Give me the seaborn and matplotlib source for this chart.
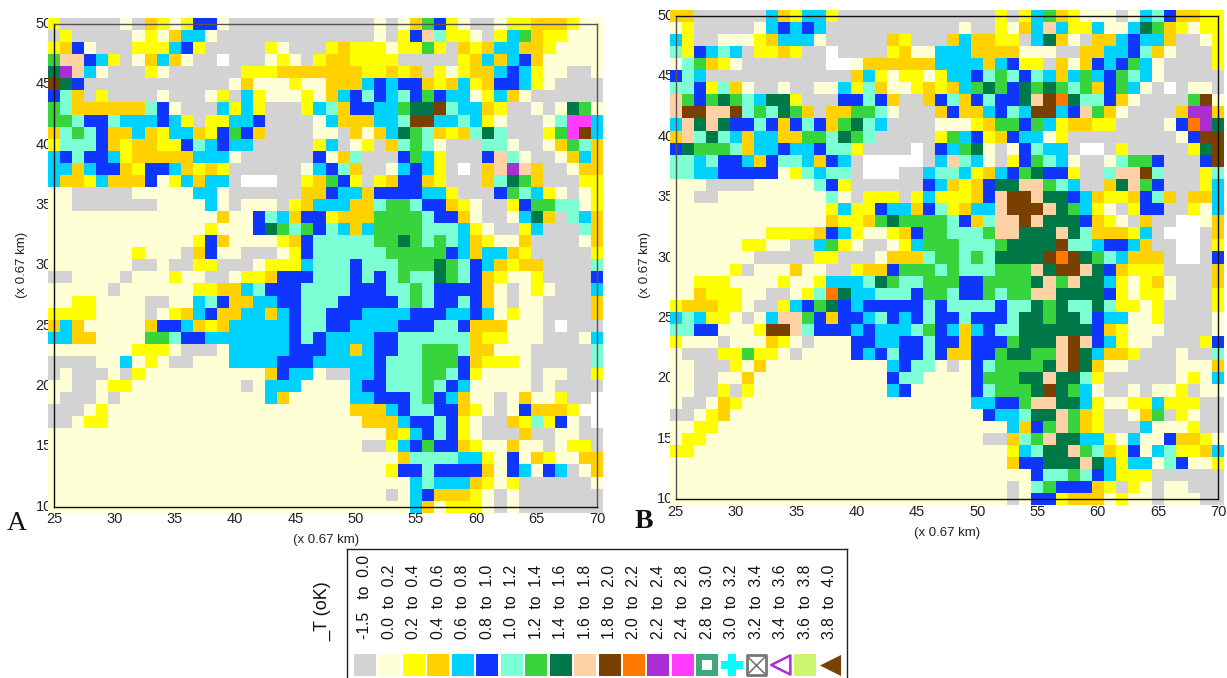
#!/usr/bin/env python3
"""Two categorical temperature-excess maps with a shared hand-built key."""

import re

import matplotlib
matplotlib.use("Agg")
import matplotlib.pyplot as plt
import numpy as np
import pandas as pd
import seaborn as sns
from matplotlib.colors import ListedColormap

X_VALUES = list(range(25, 71))
Y_VALUES = list(range(50, 9, -1))
TICKS_X = [25, 30, 35, 40, 45, 50, 55, 60, 65, 70]
TICKS_Y = [50, 45, 40, 35, 30, 25, 20, 15, 10]

# cell classes, one letter each; "." means no data (white)
CODES = ".gcyosbaldpnrum"
COLORS = ["#FFFFFF", "#D3D3D3", "#FFFFD5", "#FFFF00", "#FFD200", "#00D2FF", "#0F36FF",
          "#7CFFD4", "#38D43E", "#007848", "#FFD2A6", "#7A4000", "#FF7800", "#AA2ED2", "#FF3CFF"]

# rows from y=50 down to y=10, run-length coded: letter + optional repeat
PANEL_A = [
    "y g5 c g o y c y b2 c g7  g5 c g c o l b y c g2 c y2 o3 y c2",
    "g y g5 c y c o s2 c g8  g5 c g y b p a y2 c g y s l o y2 c3",
    "y o b c g3 y3 s b y g5 y c g2  g y o y3 c y2 l y g o y o s2 o2 y c4",
    "l p2 b s y g c o s o c g2 . g3 c y c g  y o2 y4 g5 y o s o s b o c5",
    "d u p s c g3 y c g6 y3 o3  o4 y2 o y o g y c y o2 s b s y c2 g2 c",
    "n d b g12 c o c3 y c  c o3 s b s b2 o y o s y o b2 s y c g4",
    "b a o g y g4 c g3 c y g s y c3 y  c o s b a b s a b l b s2 c y s o c g6",
    "l a o6 a b c g3 s y s y g3 y  s a o b2 s2 l d2 n a s2 o y g2 c g c d l c",
    "l2 a b2 a s3 b s y g y2 s2 b g4  c s o3 s2 a n2 s2 a s y c g3 c a m2 s",
    "o a l a b o2 s o y s2 o y b l b o g4  c2 g o c o s d l a o y o a d a g3 y l m n s",
    "y a3 b o y o2 y2 b a s b s2 g5  y s g c y g o a l a c g3 a2 c g2 c o l a o",
    "s b a b2 s y o5 s3 c g6  b c o a g3 b l s y g3 b p a c g2 c o s o",
    "s2 o s b2 o y b2 s o y o y g6 c  s b a o g2 c s b s y g . g o p u p o g2 c o2",
    "s o2 y s o3 b c y s o s2 g .3 g2 y  o l b y g y o b2 o y g3 o a d l o g3 y y",
    "c2 g5 c5 s2 c g6 o  o b s2 o b4 s2 y g3 b l a s y c g c y",
    "c2 g7 c4 s c g c3 g y o  s3 o2 a l2 a b2 o y c g2 y b l2 a2 c y",
    "c14 o c2 b a s o b  b y o3 l4 a b2 o c g2 c s d o g a s o",
    "c13 y c3 b d l a l  b a s o s l4 a3 s y c g2 y s g3 a o",
    "c12 y b o c4 y o b  a5 l2 d l a l a s o y c2 o g4 c o",
    "c7 y c3 g o b c2 g3 c y b  a6 l5 b s o s2 o y g5 y",
    "c7 g2 c g2 y2 g3 c y3 s  a3 b a3 l3 d l a b s o y o2 g4 a",
    "g2 c4 g c3 y c2 g2 c y2 o b3  a3 b a b a l a2 d l a b o y c2 y g4 b",
    "c5 g c6 y2 o2 s a b3 a  a3 b3 a2 l a b4 o c g c y c g3 s",
    "c2 y2 c4 g2 c2 s a b o2 s2 b2 a  a2 b5 a l a b2 a b o c g c2 g4 o",
    "y4 c4 g c y o s b o2 s2 o s b a  a b3 s4 b3 s2 b s c y c2 g4 o",
    "o s o c5 o b2 s o y o s5 b a  a b2 s4 b3 a2 b o3 c3 g . g3",
    "s2 o2 c4 l2 a b2 s7 b a  b s4 b2 a6 o y2 c3 g3 c s",
    "c7 y3 c g3 c s5 b2  b s2 o s b2 a2 l3 a o2 c3 g5 a",
    "g4 c2 s c y c g2 c3 s4 b3  s5 b a3 l3 b o y3 c g5 a",
    "g c g3 c g y c10 o b s2  c g2 s2 b a3 l2 a b y c4 g c2 g2 y",
    "c2 g2 c y2 c9 g c s3 c  c3 s b2 a3 l a b s c5 g c g4",
    "c g3 c g c12 s o c2  c3 s2 b3 a l b s o c2 g c o c2 y g2 .",
    "g3 c y c17  c3 o3 s b a2 b2 o y c g c b o3 y .2",
    "g2 c y2 c17  c4 o3 s b2 a b y c g2 o y a y b c g .",
    "c22  c6 o y s b a b y c g3 o g2 c2 g2",
    "c22  c4 g2 y s b l b2 o y c2 o c2 g c y2 g",
    "c22  c7 o a4 s2 y c b c o y c2 o2",
    "c22  c6 y b2 a b4 o c b s c b s g c o",
    "c22  c8 s a s3 o y c y g6 c",
    "c22  c6 g c s b o3 y c g c g7",
    "c22  c8 s o c y3 c g c g7",
]

PANEL_B = [
    "o2 g6 s o y s2 y g8  g5 y g y s l o y c3 g c s a b o2 y2",
    "c y g5 c s b s b s g9  g2 c g2 y c o s p s y2 s c2 s d l o y c y2",
    "s y g2 c3 y o s3 c g5 o y g2  g o s o2 y2 g s d o c g o2 s b s2 o g2 c y",
    "a y b s a s g y2 o y g2 . g4 y o c2  s3 o4 c3 g2 o2 s2 b a o c g3 y",
    "c a l o y c g7 .2 c o6  s4 o s b y2 g o c o b s b l s c g4 y",
    "b a s g12 o s y c y2 c  y s2 b a l a b a s o s l s b l a s c g5",
    "a2 b y a o c g2 c g2 c2 s y a o c2 y o  y o s l d l b d l d l a l o b l s c g . g c2 g",
    "p l b l d l a s d2 y g3 b2 a b o g2 o  b a o b a b2 d p n r d a2 b o c g4 l n c",
    "p n2 p2 n a l a d l o g o2 l2 a c g3  o b o2 s b a s n2 s b p l o c g4 o u2 o",
    "s p d p d b2 a b o b a b o l d a s g4  c3 y o l2 b l s y o2 y2 g4 c b r u d",
    "o p a d a s o s2 o2 l2 a d l a g5  y l s b y o b s2 c y g9 c b n2",
    "b d l3 a o s2 b s2 b a2 y g4 . g  b s l d c g c b a s2 g .2 g y g5 y d n",
    "a2 s a b2 s o b a2 s o b s g .5 g  s p a s c g y b l a s c g2 c a l2 b g3 b n",
    "a2 s2 b5 c y a s a2 g .3 g2 s  a2 s y o s b l d b2 y g2 a p2 n a g3 y a",
    "c3 g4 c5 a b y g6 b  s o y o b d2 p2 l a s g2 o d p l b g3 y s",
    "c2 g2 c9 a c g y3 g y s  y3 o b p n2 p d2 b s o y2 o b a o g o2 s",
    "c13 y s y2 b s2 o b  a y o s2 p n3 p d l s y c g y b2 g2 y c s",
    "c13 o y2 o l d l3  l a b o a p2 n p d3 b o y c g o g2 .2 c o",
    "c8 y4 o b s y c2 y o b l  l a3 l p2 d3 p d a o3 y s g .3 g o",
    "c6 y2 c2 g2 s l y c g2 c y s l  l2 a3 l d4 n a2 s b2 s o g2 .2 g y",
    "c7 g5 y2 g3 c o3 a  l2 a l a d4 n r n d l a s o3 g .2 g b",
    "c5 y g c3 o c2 g2 y o2 b l3  a l a3 l3 p d n2 p d b o y3 g4 o",
    "c2 y3 c4 y c2 y s3 a d l a2 l  l2 b2 l4 d p l p d2 s y c y o c g3 o",
    "c2 o y3 c2 g2 c y a r d s2 a3 b l  l a b2 l a l2 p2 d4 b y c y2 c g3 y",
    "y o3 y2 c g2 y s b l d b s b5 a  b a4 b a2 d l d a2 d a y2 c y g4 y",
    "s a s y2 c g c s p2 l b o b2 s a b s b a  b2 a b3 a d2 l d2 a b s2 c2 y g4 c",
    "a2 b2 c3 y n2 p a b3 s b s3 a l  b s o s b a2 d6 b o y c3 g4 c",
    "y c3 g c3 o y c g c3 b2 s2 b2 a  b2 o b3 l d3 p n p b s y c2 g4 y b",
    "c g3 y2 l y2 c g c4 b s b a b2 a  b o2 b2 l d2 l2 p n d s o2 y g3 c g2 a",
    "c2 g3 y c o c10 s b a2  c g c b a l4 d p n d o c2 g4 c3 o",
    "c2 g2 c2 o c11 b a2 c  c3 b l3 d2 p d2 a y g6 c y c s",
    "c2 g2 y g y c11 s b c2  c3 b a l3 d n d l s c g2 c g c2 y g c2",
    "c g2 c o y c16  c3 s2 b2 l p2 d2 s y c2 y2 s y3 g2",
    "g2 c y o c17  c4 b s2 a d2 p l o y g2 c o l g y c g2",
    "c2 y2 c18  c6 s o b l p l o y g3 s c3 y g2",
    "c y2 c19  c4 g2 o a l p d2 s2 y c s c2 b o2 y c",
    "y2 c20  c6 y s a d2 p l a o y b c s a y2 o s",
    "c22  c6 o b2 d3 p d s y s2 c a b c2 y",
    "c22  c8 b a2 l a b s y3 g6",
    "c22  c6 g c a l b3 o y g y c g c2 g3",
    "c22  c6 g c b2 y o3 c y c2 g c3 g2",
]

LEGEND_LABELS = ["-1.5   to  0.0", "0.0  to  0.2", "0.2  to  0.4", "0.4  to  0.6", "0.6  to  0.8",
                 "0.8  to  1.0", "1.0  to  1.2", "1.2  to  1.4", "1.4  to  1.6", "1.6  to  1.8",
                 "1.8  to  2.0", "2.0  to  2.2", "2.2  to  2.4", "2.4  to  2.8", "2.8  to  3.0",
                 "3.0  to  3.2", "3.2  to  3.4", "3.4  to  3.6", "3.6  to  3.8", "3.8  to  4.0"]
LEGEND_COLORS = ["#D3D3D3", "#FFFFD5", "#FFFF00", "#FFD200", "#00D2FF", "#0F36FF", "#7CFFD4",
                 "#38D43E", "#007848", "#FFD2A6", "#7A4000", "#FF7800", "#AA2ED2", "#FF3CFF"]

W, H = 1227, 678


def decode(rows):
    grid = []
    for row in rows:
        cells = ""
        for code, count in re.findall(r"([.a-z])(\d*)", row):
            cells += code * int(count or 1)
        assert len(cells) == len(X_VALUES), (row, len(cells))
        grid.append([CODES.index(c) for c in cells])
    assert len(grid) == len(Y_VALUES)
    return pd.DataFrame(grid, index=Y_VALUES, columns=X_VALUES)


def px_axes(fig, left, top, right, bottom):
    return fig.add_axes([left / W, 1 - bottom / H, (right - left) / W, (bottom - top) / H])


def draw_panel(fig, rows, box, spine_colors):
    ax = px_axes(fig, *box)
    cmap = ListedColormap(COLORS)
    sns.heatmap(decode(rows), cmap=cmap, vmin=-0.5, vmax=len(COLORS) - 0.5, cbar=False,
                square=False, ax=ax)
    # the cells run half a unit past the frame, as in the source plot
    ax.collections[0].set_clip_on(False)
    ax.collections[0].set_antialiased(False)
    ax.set_xlim(0.5, 45.5)
    ax.set_ylim(40.5, 0.5)
    ax.set_xticks([X_VALUES.index(v) + 0.5 for v in TICKS_X], labels=TICKS_X, rotation=0)
    ax.set_yticks([Y_VALUES.index(v) + 0.5 for v in TICKS_Y], labels=TICKS_Y, rotation=0)
    ax.tick_params(length=2.5, width=0.7, labelsize=10.5, colors="#222222", bottom=True, left=True)
    ax.tick_params(axis="x", pad=1.5)
    ax.tick_params(axis="y", pad=-1)
    ax.set_xlabel("")
    ax.set_ylabel("")
    for side, color in spine_colors.items():
        ax.spines[side].set_visible(True)
        ax.spines[side].set_color(color)
        ax.spines[side].set_linewidth(1.0)
        ax.spines[side].set_zorder(5)
    return ax


def draw_key(fig):
    ax = px_axes(fig, 347, 549, 847, 679)
    ax.set_xlim(347, 847)
    ax.set_ylim(679, 549)
    ax.set_xticks([])
    ax.set_yticks([])
    for spine in ax.spines.values():
        spine.set_visible(True)
        spine.set_color("#222222")
        spine.set_linewidth(1.0)
    centers = 364.8 + 24.47 * np.arange(len(LEGEND_LABELS))
    for x, label in zip(centers, LEGEND_LABELS):
        ax.text(x, 639, label, rotation=90, ha="center", va="bottom", fontsize=11.3, color="#111111")
    sw = {"marker": "s", "s": 250, "linewidths": 0, "clip_on": False}
    y = 665
    for x, color in zip(centers, LEGEND_COLORS):
        ax.scatter(x, y, c=color, **sw)
    ax.scatter(centers[14], y, c="#3EA97A", **sw)
    ax.scatter(centers[14], y, c="white", marker="s", s=55, linewidths=0)
    ax.scatter(centers[15], y, c="#00FFFF", marker="P", s=270, linewidths=0)
    ax.scatter(centers[16], y, facecolors="none", edgecolors="#777777", marker="s", s=190, linewidths=2)
    ax.scatter(centers[16], y, c="#777777", marker="x", s=150, linewidths=1.2)
    ax.scatter(centers[17], y, facecolors="none", edgecolors="#AA2ED2", marker="<", s=190, linewidths=1.8)
    ax.scatter(centers[18], y, c="#CCF570", **sw)
    ax.scatter(centers[19], y, c="#7A4000", marker="<", s=230, linewidths=0)


def add_text(fig, x, y, text, **kwargs):
    fig.text(x / W, 1 - y / H, text, ha="center", va="center", **kwargs)


def main():
    sns.set_theme(style="white")
    plt.rcParams["font.family"] = ["Liberation Sans", "DejaVu Sans"]
    fig = plt.figure(figsize=(W / 100, H / 100), dpi=100, facecolor="white")

    grey = "#555555"
    draw_panel(fig, PANEL_A, (54, 24, 597, 506.7),
               {"left": "#111111", "bottom": "#111111", "top": grey, "right": grey})
    draw_panel(fig, PANEL_B, (675.7, 15.7, 1218.3, 499.3),
               {"left": grey, "bottom": "#111111", "top": "#111111", "right": "#111111"})
    draw_key(fig)

    label = "(x 0.67 km)"
    add_text(fig, 326, 540, label, fontsize=9.5, color="#222222")
    add_text(fig, 22, 265, label, fontsize=9.5, color="#222222", rotation=90)
    add_text(fig, 947, 533, label, fontsize=9.5, color="#222222")
    add_text(fig, 645, 265, label, fontsize=9.5, color="#222222", rotation=90)
    add_text(fig, 323, 611, "_T (oK)", fontsize=13, color="#111111", rotation=90)
    add_text(fig, 17, 523, "A", fontsize=20, family="Liberation Serif", color="#111111")
    add_text(fig, 643.5, 521, "B", fontsize=20, family="Liberation Serif", weight="bold", color="#111111")

    fig.savefig("out.png", dpi=100, facecolor="white")


if __name__ == "__main__":
    main()
